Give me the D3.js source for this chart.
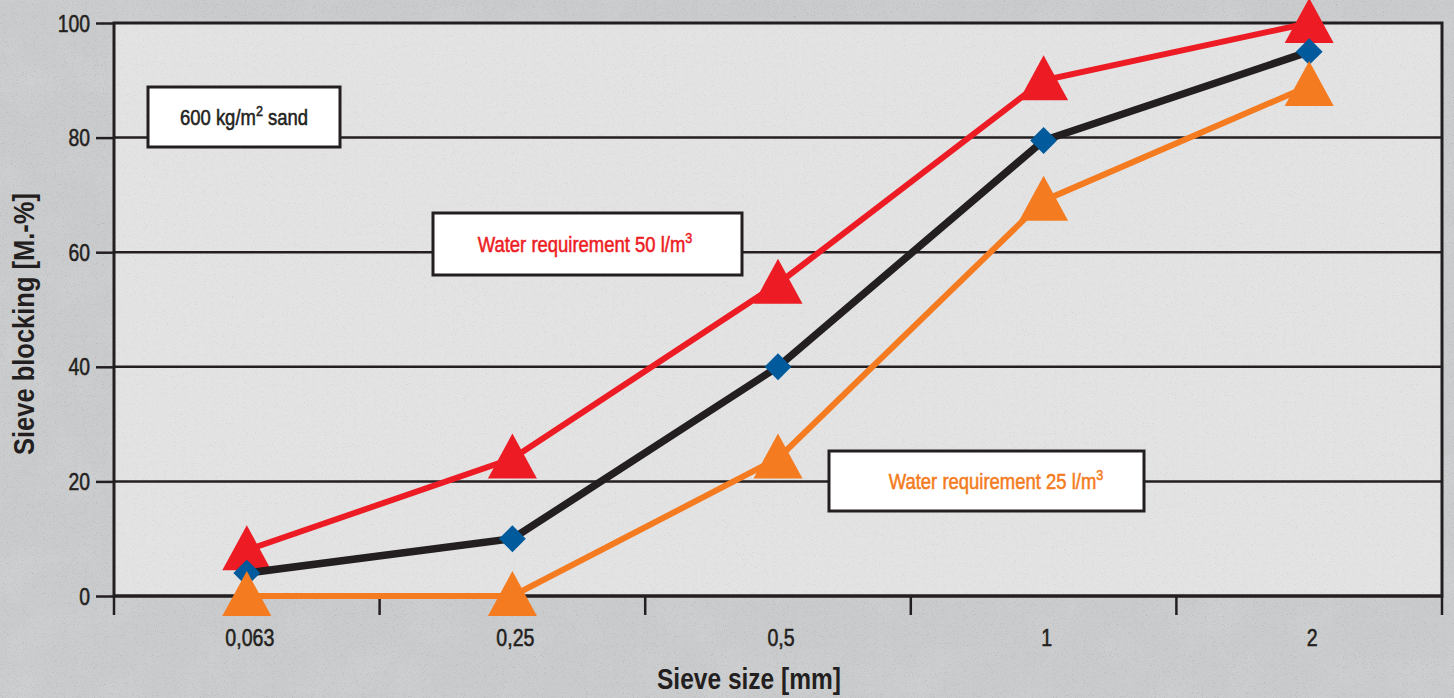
<!DOCTYPE html>
<html>
<head>
<meta charset="utf-8">
<script src="https://cdn.jsdelivr.net/npm/d3@7"></script>
<style>
  html, body { margin: 0; padding: 0; background: #cdcecf; }
  svg { display: block; }
</style>
</head>
<body>
<svg id="chart" width="1454" height="698"></svg>
<script>
// Sieve sizes (mm) on the x axis
const sieveSizes = ["0,063", "0,25", "0,5", "1", "2"];
// Sieve blocking in mass-% for each sieve size
const sand600 = [4, 10, 40, 79.5, 95];          // 600 kg/m² sand (black line, blue diamonds)
const water50 = [8, 24, 54.5, 90, 100];          // water requirement 50 l/m³ (red)
const water25 = [0, 0, 24, 69, 89];              // water requirement 25 l/m³ (orange)
const yTicks = [0, 20, 40, 60, 80, 100];

const W = 1454, H = 698;
const plot = { left: 114, right: 1442, top: 23, bottom: 596 };
const font = '"Liberation Sans", Arial, sans-serif';
const ink = "#231f20";

const svg = d3.select("#chart");

// Condensed lettering: regular sans squeezed horizontally around its anchor point
function label(parent, x, y, str, opts) {
  const o = Object.assign({ size: 24, squeeze: 0.8, anchor: "middle", weight: "normal", color: ink, rotate: 0, length: null }, opts);
  const g = parent.append("g")
    .attr("transform", `translate(${x},${y}) rotate(${o.rotate}) scale(${o.squeeze},1)`);
  const t = g.append("text")
    .attr("text-anchor", o.anchor).attr("fill", o.color)
    .attr("stroke", o.weight === "normal" ? o.color : "none").attr("stroke-width", 0.55)
    .style("font-family", font).style("font-size", o.size + "px").style("font-weight", o.weight);
  if (o.length) t.attr("textLength", o.length / o.squeeze).attr("lengthAdjust", "spacingAndGlyphs");
  return t.text(str);
}

// concrete-like textures
const defs = svg.append("defs");
const speck = defs.append("filter").attr("id", "speck").attr("x", 0).attr("y", 0).attr("width", "100%").attr("height", "100%");
speck.append("feTurbulence").attr("type", "fractalNoise").attr("baseFrequency", 0.9).attr("numOctaves", 2).attr("seed", 7);
speck.append("feColorMatrix").attr("type", "matrix")
  .attr("values", "0 0 0 0 0.4  0 0 0 0 0.4  0 0 0 0 0.41  3 0 0 0 -1.72");
const mottle = defs.append("filter").attr("id", "mottle").attr("x", 0).attr("y", 0).attr("width", "100%").attr("height", "100%");
mottle.append("feTurbulence").attr("type", "fractalNoise").attr("baseFrequency", 0.02).attr("numOctaves", 3).attr("seed", 2);
mottle.append("feColorMatrix").attr("type", "matrix")
  .attr("values", "0 0 0 0 1  0 0 0 0 1  0 0 0 0 1  1 0 0 0 -0.45");

svg.append("rect").attr("width", W).attr("height", H).attr("fill", "#cacbcc");
svg.append("rect").attr("width", W).attr("height", H).attr("filter", "url(#mottle)").attr("opacity", 0.18);
svg.append("rect").attr("width", W).attr("height", H).attr("filter", "url(#speck)").attr("opacity", 0.65);

// lighter plot area
svg.append("rect")
  .attr("x", plot.left).attr("y", plot.top)
  .attr("width", plot.right - plot.left).attr("height", plot.bottom - plot.top)
  .attr("fill", "#e3e3e4");
svg.append("rect")
  .attr("x", plot.left).attr("y", plot.top)
  .attr("width", plot.right - plot.left).attr("height", plot.bottom - plot.top)
  .attr("filter", "url(#speck)").attr("opacity", 0.3);

const x = d3.scaleBand().domain(sieveSizes).range([plot.left, plot.right]).padding(0);
const y = d3.scaleLinear().domain([0, 100]).range([plot.bottom, plot.top]);
const cx = d => x(d) + x.bandwidth() / 2;

// horizontal grid lines
svg.append("g")
  .selectAll("line").data(yTicks.filter(t => t > 0 && t < 100)).join("line")
  .attr("x1", plot.left).attr("x2", plot.right)
  .attr("y1", d => y(d)).attr("y2", d => y(d))
  .attr("stroke", ink).attr("stroke-width", 2.5);

// plot frame
svg.append("rect")
  .attr("x", plot.left).attr("y", plot.top)
  .attr("width", plot.right - plot.left).attr("height", plot.bottom - plot.top)
  .attr("fill", "none").attr("stroke", ink).attr("stroke-width", 3);

// y axis: ticks from the axis scale, labels right-aligned
const yAxis = d3.axisLeft(y).tickValues(yTicks).tickSize(18).tickFormat("");
const gy = svg.append("g").attr("transform", `translate(${plot.left},0)`).call(yAxis);
gy.select(".domain").remove();
gy.selectAll(".tick line").attr("stroke", ink).attr("stroke-width", 2.5);
yTicks.forEach(t => label(svg, 90, y(t) + 8.5, d3.format("d")(t), { anchor: "end", size: 24.5, squeeze: 0.79 }));

// x axis: ticks on band boundaries, labels at band centres
const gx = svg.append("g").attr("transform", `translate(0,${plot.bottom})`);
const edges = sieveSizes.map(d => x(d)).concat([x(sieveSizes[sieveSizes.length - 1]) + x.bandwidth()]);
gx.append("line").attr("x1", plot.left).attr("x2", plot.right).attr("y1", 0).attr("y2", 0)
  .attr("stroke", ink).attr("stroke-width", 3);
gx.selectAll("line.tick").data(edges).join("line").attr("class", "tick")
  .attr("x1", d => d).attr("x2", d => d).attr("y1", 0).attr("y2", 19)
  .attr("stroke", ink).attr("stroke-width", 2.5);
sieveSizes.forEach(d => label(svg, cx(d) + 3, plot.bottom + 50, d, { size: 24.5, squeeze: 0.8 }));

// axis titles
label(svg, 749, 689, "Sieve size [mm]", { size: 29, weight: "bold", squeeze: 0.85, length: 184 });
label(svg, 34, 324, "Sieve blocking [M.-%]", { size: 29, weight: "bold", squeeze: 0.82, rotate: -90, length: 262 });

// series
const line = d3.line().x((v, i) => cx(sieveSizes[i])).y(v => y(v));
const triangle = (up, down, half) => `M0,${-up}L${half},${down}L${-half},${down}Z`;

const red = "#ed1c24", orange = "#f47b20", blue = "#005a9c";

function drawSeries(values, color, width) {
  svg.append("path").datum(values).attr("d", line)
    .attr("fill", "none").attr("stroke", color).attr("stroke-width", width)
    .attr("stroke-linejoin", "miter");
}
function drawTriangles(values, color) {
  svg.append("g").selectAll("path").data(values).join("path")
    .attr("transform", (v, i) => `translate(${cx(sieveSizes[i])},${y(v)})`)
    .attr("d", triangle(25, 20, 24.5)).attr("fill", color);
}

drawSeries(water50, red, 6);
drawTriangles(water50, red);
drawSeries(sand600, ink, 7.5);
svg.append("g").selectAll("rect").data(sand600).join("rect")
  .attr("x", -9.5).attr("y", -9.5).attr("width", 19).attr("height", 19)
  .attr("transform", (v, i) => `translate(${cx(sieveSizes[i])},${y(v)}) rotate(45)`)
  .attr("fill", blue);
drawSeries(water25, orange, 6);
drawTriangles(water25, orange);

// annotation boxes
const notes = [
  { x: 148, y: 87, w: 192, h: 60, tx: 244, base: "600 kg/m", sup: "2", tail: " sand", color: ink },
  { x: 433, y: 213, w: 309, h: 62, tx: 585, base: "Water requirement 50 l/m", sup: "3", tail: "", color: red },
  { x: 829, y: 451, w: 315, h: 60, tx: 996, base: "Water requirement 25 l/m", sup: "3", tail: "", color: orange }
];
notes.forEach(n => {
  svg.append("rect")
    .attr("x", n.x).attr("y", n.y).attr("width", n.w).attr("height", n.h)
    .attr("fill", "#ffffff").attr("stroke", ink).attr("stroke-width", 3);
  const t = label(svg, n.tx, n.y + n.h / 2 + 8, null, { size: 22, squeeze: 0.84, color: n.color });
  t.text(null);
  t.append("tspan").text(n.base);
  t.append("tspan").attr("dy", -9).style("font-size", "15px").text(n.sup);
  if (n.tail) t.append("tspan").attr("dy", 9).text(n.tail);
});
</script>
</body>
</html>
